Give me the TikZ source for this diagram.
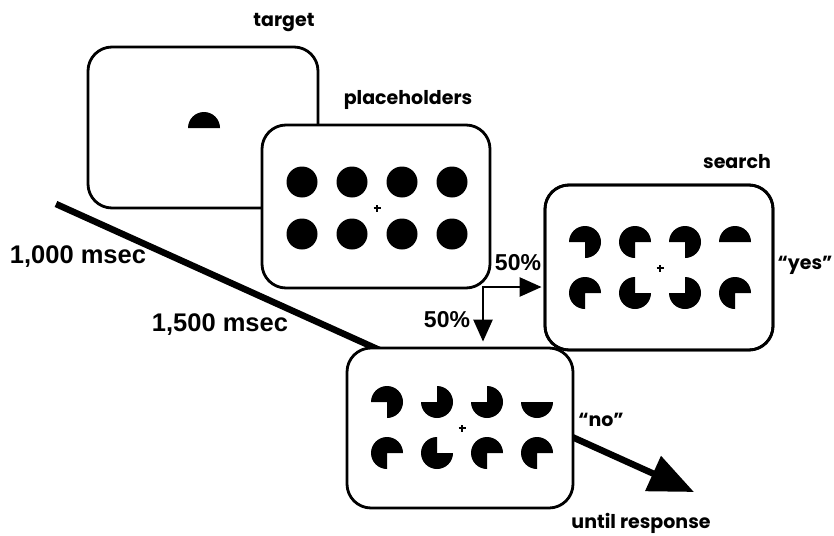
\documentclass[tikz,border=0pt]{standalone}
\usepackage{fontspec}
\usetikzlibrary{arrows.meta}
\newfontfamily\geo{Poppins}
\newfontfamily\hel{Liberation Sans}
\newcommand\pacm[3]{\fill (#1,-#2) -- ++(#3*90:16pt) arc[start angle=#3*90, end angle=#3*90+270, radius=16pt] -- cycle;}
\newcommand\halfup[2]{\fill (#1,-#2) ++(16pt,0) arc[start angle=0, end angle=180, radius=16pt] -- cycle;}
\newcommand\halfdown[2]{\fill (#1,-#2) ++(-16pt,0) arc[start angle=180, end angle=360, radius=16pt] -- cycle;}
\newcommand\fixpt[2]{\draw[line width=1.2pt] (#1-3.5,-#2) -- (#1+3.5,-#2) (#1,-#2-3.5) -- (#1,-#2+3.5);}
\begin{document}
\begin{tikzpicture}[x=1pt,y=1pt,
  panel/.style={draw, line width=2.8pt, rounded corners=24pt, fill=white, inner sep=0pt},
  geolab/.style={font=\geo\bfseries\fontsize{19}{22}\selectfont, inner sep=0pt},
  hellab/.style={font=\hel\bfseries\fontsize{25.5}{29}\selectfont, inner sep=0pt},
  pctlab/.style={font=\hel\bfseries\fontsize{23}{26}\selectfont, inner sep=0pt},
  mainline/.style={line width=6.5pt, -{Triangle[length=45pt,width=37pt]}},
  splitarrow/.style={line width=2.5pt, line cap=rect, -{Triangle[length=22pt,width=19pt]}}]
\useasboundingbox (0,0) rectangle (834,-535);
% main time line
\coordinate (start) at (56,-204);
\coordinate (end) at (694,-492);
\draw[mainline] (start) -- (end);
% panels
\node[panel, minimum width=230pt, minimum height=161pt] (target) at (203,-127.5) {};
\node[panel, minimum width=228pt, minimum height=163pt] (place) at (376,-206.5) {};
\node[panel, minimum width=228pt, minimum height=165pt] (search) at (659,-267.5) {};
\node[panel, minimum width=226pt, minimum height=160pt] (bottom) at (460,-428) {};
\node[panel, fill=none, minimum width=228pt, minimum height=165pt] (searchb) at (659,-267.5) {};
% target
\halfup{204}{128}
% placeholders
\foreach \xx in {302,352,402,452}{
  \foreach \yy in {182,234}{
    \fill (\xx,-\yy) circle[radius=15.5pt];
  }
}
\fixpt{377}{208}
% search
\pacm{585}{242}{3}
\pacm{635}{242}{4}
\pacm{685}{242}{3}
\halfup{735}{242}
\pacm{585}{293}{4}
\pacm{635}{293}{1}
\pacm{685}{293}{2}
\pacm{735}{293}{4}
\fixpt{660}{268}
% bottom
\pacm{387}{402}{3}
\pacm{437}{402}{2}
\pacm{487}{402}{2}
\halfdown{537}{402}
\pacm{387}{453}{4}
\pacm{437}{453}{1}
\pacm{487}{453}{4}
\pacm{537}{453}{4}
\fixpt{462}{428}
% split arrows
\coordinate (split) at (483,-287);
\draw[splitarrow, shorten >=2pt] (split) -- (split -| search.west);
\draw[splitarrow, shorten >=5pt] (split) -- (split |- bottom.north);
% labels
\node[geolab] (ltarget) at (284,-23) {target};
\node[geolab] (lplace) at (408,-100) {placeholders};
\node[geolab] (lsearch) at (737,-162) {search};
\node[geolab] (lyes) at (805,-265) {“yes”};
\node[geolab] (lno) at (601,-420) {“no”};
\node[geolab] (lresp) at (641,-523) {until response};
\node[hellab] (l1000) at (78,-257) {1,000 msec};
\node[hellab] (l1500) at (220,-325) {1,500 msec};
\node[pctlab] (p1) at (518,-263) {50\%};
\node[pctlab] (p2) at (447,-320) {50\%};
\end{tikzpicture}
\end{document}
